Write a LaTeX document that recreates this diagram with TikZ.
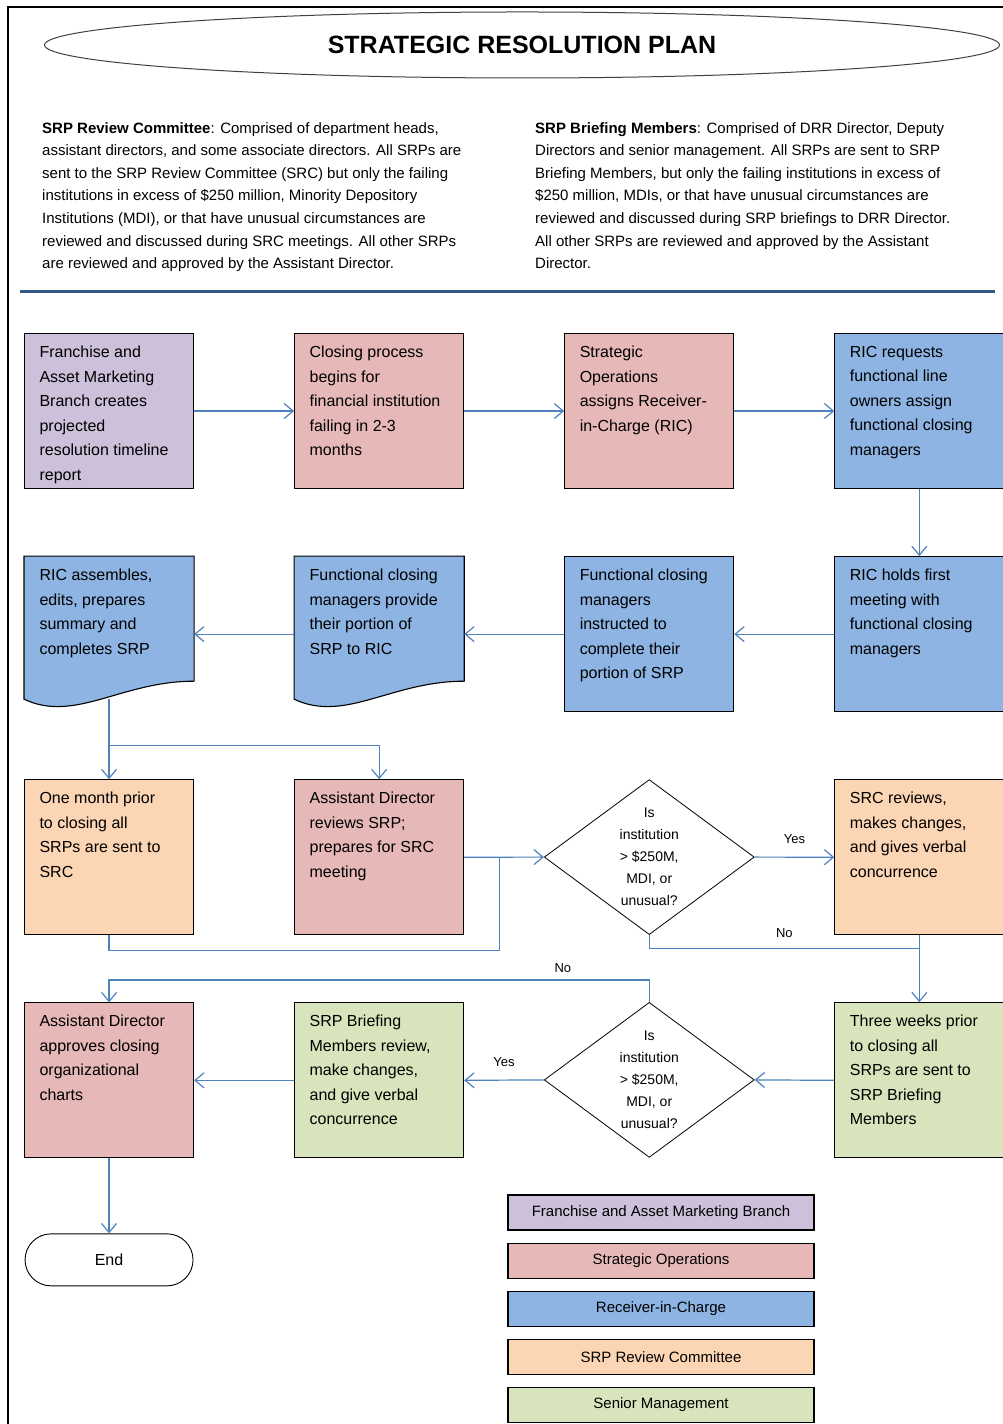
\documentclass[tikz,border=0pt]{standalone}
\usepackage{fontspec}
\setmainfont{Liberation Sans}
\usetikzlibrary{arrows.meta,positioning,shapes.geometric,calc,backgrounds}

\definecolor{fambpurple}{RGB}{204,192,218}
\definecolor{stratpink}{RGB}{230,184,183}
\definecolor{ricblue}{RGB}{141,180,226}
\definecolor{srcorange}{RGB}{252,213,180}
\definecolor{seniorgreen}{RGB}{216,228,188}
\definecolor{linkblue}{RGB}{79,129,189}
\definecolor{rulenavy}{RGB}{52,90,140}

\newcommand{\boxtext}[1]{\parbox[t][130pt][t]{139pt}{\raggedright #1}}

\begin{document}
\begin{tikzpicture}[x=1pt,y=1pt,>={Straight Barb[length=9pt,width=15pt]},
										node distance=67pt and 100pt]
	\tikzstyle{procbox}=[rectangle,draw=black,line width=1.1pt,minimum width=169pt,minimum height=155pt,
										inner xsep=15pt,inner ysep=12pt,font=\fontsize{16}{24.5}\selectfont]
	\tikzstyle{docbox}=[procbox,draw=none]
	\tikzstyle{decision}=[diamond,draw=black,line width=0.8pt,aspect=1.35,minimum width=210pt,
										minimum height=155pt,inner sep=0pt,align=center,font=\fontsize{14}{22}\selectfont]
	\tikzstyle{endbox}=[rectangle,rounded corners=26pt,draw=black,line width=0.9pt,minimum width=168pt,
										minimum height=52pt,font=\fontsize{16}{19}\selectfont]
	\tikzstyle{legendbox}=[rectangle,draw=black,line width=1.1pt,minimum width=306pt,minimum height=35pt,
										font=\fontsize{15}{18}\selectfont]
	\tikzstyle{headtext}=[align=left,inner sep=0pt,font=\fontsize{15}{22.6}\selectfont]
	\tikzstyle{flow}=[color=linkblue,line width=1.2pt,->]
	\tikzstyle{flowlabel}=[text=black,font=\fontsize{13}{15}\selectfont]

	\useasboundingbox (0,0) rectangle (1003,1424);
	\draw[line width=2pt] (8,0) -- (8,1417) -- (1003,1417);

	\node[ellipse,draw=black!75,line width=1pt,minimum width=955pt,minimum height=66pt,
				font=\bfseries\fontsize{25}{30}\selectfont] (title) at (522,1379) {STRATEGIC RESOLUTION PLAN};

	\node[headtext,anchor=north west] (srcnote) at (42,1302)
		{\textbf{SRP Review Committee}:  Comprised of department heads,\\
		assistant directors, and some associate directors.  All SRPs are\\
		sent to the SRP Review Committee (SRC) but only the failing\\
		institutions in excess of \$250 million, Minority Depository\\
		Institutions (MDI), or that have unusual circumstances are\\
		reviewed and discussed during SRC meetings.  All other SRPs\\
		are reviewed and approved by the Assistant Director.};
	\node[headtext,anchor=north west] (briefnote) at (535,1302)
		{\textbf{SRP Briefing Members}:  Comprised of DRR Director, Deputy\\
		Directors and senior management.  All SRPs are sent to SRP\\
		Briefing Members, but only the failing institutions in excess of\\
		\$250 million, MDIs, or that have unusual circumstances are\\
		reviewed and discussed during SRP briefings to DRR Director.\\
		All other SRPs are reviewed and approved by the Assistant\\
		Director.};
	\draw[rulenavy,line width=3pt] (20,1132) -- (995,1132);

	\node[procbox,fill=fambpurple,anchor=north west] (B1) at (24,1091)
		{\boxtext{Franchise and\\ Asset Marketing\\ Branch creates\\ projected\\ resolution timeline\\ report}};
	\node[procbox,fill=stratpink]   (B2) [right=of B1]
		{\boxtext{Closing process\\ begins for\\ financial institution\\ failing in 2-3\\ months}};
	\node[procbox,fill=stratpink]   (B3) [right=of B2]
		{\boxtext{Strategic\\ Operations\\ assigns Receiver-\\ in-Charge (RIC)}};
	\node[procbox,fill=ricblue]     (B4) [right=of B3]
		{\boxtext{RIC requests\\ functional line\\ owners assign\\ functional closing\\ managers}};

	\node[docbox]                   (C1) [below=of B1]
		{\boxtext{RIC assembles,\\ edits, prepares\\ summary and\\ completes SRP}};
	\node[docbox]                   (C2) [below=of B2]
		{\boxtext{Functional closing\\ managers provide\\ their portion of\\ SRP to RIC}};
	\node[procbox,fill=ricblue]     (C3) [below=of B3]
		{\boxtext{Functional closing\\ managers\\ instructed to\\ complete their\\ portion of SRP}};
	\node[procbox,fill=ricblue]     (C4) [below=of B4]
		{\boxtext{RIC holds first\\ meeting with\\ functional closing\\ managers}};

	\node[procbox,fill=srcorange]   (D1) [below=of C1]
		{\boxtext{One month prior\\ to closing all\\ SRPs are sent to\\ SRC}};
	\node[procbox,fill=stratpink]   (D2) [below=of C2]
		{\boxtext{Assistant Director\\ reviews SRP;\\ prepares for SRC\\ meeting}};
	\node[decision]                 (Q1) [below=of C3]
		{Is\\ institution\\ > \$250M,\\ MDI, or\\ unusual?};
	\node[procbox,fill=srcorange]   (D4) [below=of C4]
		{\boxtext{SRC reviews,\\ makes changes,\\ and gives verbal\\ concurrence}};

	\node[procbox,fill=stratpink]   (E1) [below=of D1]
		{\boxtext{Assistant Director\\ approves closing\\ organizational\\ charts}};
	\node[procbox,fill=seniorgreen] (E2) [below=of D2]
		{\boxtext{SRP Briefing\\ Members review,\\ make changes,\\ and give verbal\\ concurrence}};
	\node[decision]                 (Q2) [below=of Q1]
		{Is\\ institution\\ > \$250M,\\ MDI, or\\ unusual?};
	\node[procbox,fill=seniorgreen] (E4) [below=of D4]
		{\boxtext{Three weeks prior\\ to closing all\\ SRPs are sent to\\ SRP Briefing\\ Members}};

	\node[endbox] (End) [below=75pt of E1] {End};

	\begin{scope}[on background layer]
		\foreach \n in {C1,C2}
			\draw[fill=ricblue,line width=1.1pt] (\n.north west) -- (\n.north east) -- ($(\n.south east)+(0,31)$)
				.. controls ($(\n.south east)+(-73,31)$) and ($(\n.south west)+(51,-11)$) .. ($(\n.south west)+(0,13)$) -- cycle;
	\end{scope}

	\node[legendbox,fill=fambpurple]  (keyfamb)   at (661,211.5)          {Franchise and Asset Marketing Branch};
	\node[legendbox,fill=stratpink]   (keystrat)  [below=12pt of keyfamb]  {Strategic Operations};
	\node[legendbox,fill=ricblue]     (keyric)    [below=12pt of keystrat] {Receiver-in-Charge};
	\node[legendbox,fill=srcorange]   (keysrc)    [below=12pt of keyric]   {SRP Review Committee};
	\node[legendbox,fill=seniorgreen] (keysenior) [below=12pt of keysrc]   {Senior Management};

	\path[flow] (B1) edge (B2)
				(B2) edge (B3)
				(B3) edge (B4)
				(B4) edge (C4)
				(C4) edge (C3)
				(C3) edge (C2)
				(C2) edge (C1)
				(D2.east) edge (Q1.west)
				(Q1.east) edge node[flowlabel,above=10pt] {Yes} (D4.west)
				(D4) edge (E4)
				(E4.west) edge (Q2.east)
				(Q2.west) edge node[flowlabel,above=10pt] {Yes} (E2.east)
				(E2) edge (E1)
				(E1) edge (End);

	\coordinate (c1tail) at ($(C1.south)+(0,13)$);
	\coordinate (fork) at ($(C1.south)!0.5!(D1.north)$);
	\coordinate (join1) at ($(D2.east)!0.44!(Q1.west)$);
	\coordinate (join2) at ($(D4.south)+(0,-13)$);
	\draw[flow] (c1tail) -- (D1);
	\draw[flow] (fork) -| (D2);
	\draw[flow,-] (D1.south) -- ++(0,-15) -| (join1);
	\draw[flow,-] (Q1.south) |- node[flowlabel,pos=0.75,above=7pt] {No} (join2);
	\draw[flow] (Q2.north) -- ++(0,22) -| node[flowlabel,pos=0.08,above=3pt] {No} (E1.north);
\end{tikzpicture}
\end{document}
